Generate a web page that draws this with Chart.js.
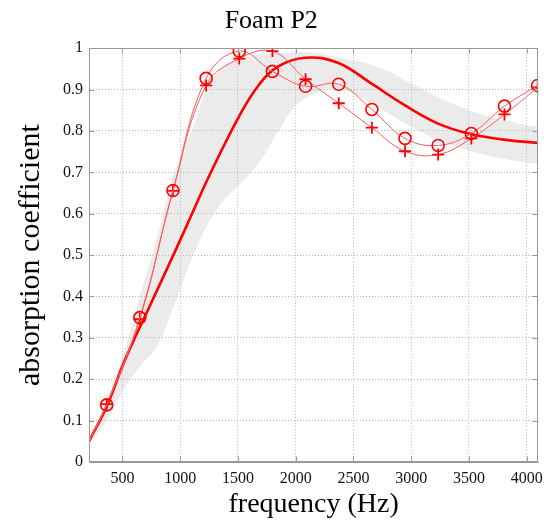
<!DOCTYPE html>
<html>
<head>
<meta charset="utf-8">
<script src="https://cdn.jsdelivr.net/npm/chart.js@4.4.1/dist/chart.umd.min.js"></script>
<style>
  html, body { margin: 0; padding: 0; background: #fff; }
</style>
</head>
<body>
<canvas id="foamChart" width="546" height="520"></canvas>
<script>
// measured points (markers)
const freqs = [364, 651, 938, 1225, 1512, 1799, 2086, 2373, 2660, 2947, 3234, 3521, 3808, 4095];
const circleVals = [0.138, 0.349, 0.656, 0.927, 0.993, 0.944, 0.908, 0.913, 0.852, 0.782, 0.765, 0.794, 0.86, 0.91];
const plusVals = [0.14, 0.345, 0.655, 0.91, 0.975, 0.993, 0.925, 0.867, 0.808, 0.751, 0.743, 0.782, 0.84, 0.905];
// where the thin curves start at the left edge
const startFreq = 211;
const startVal = 0.05;

// thick model curve
const modelFreqs = [211, 365, 520, 734, 966, 1095, 1249, 1500, 1678, 1850, 2082, 2365, 2648, 2940, 3223, 3507, 3799, 4100];
const modelVals = [0.05, 0.135, 0.245, 0.375, 0.515, 0.595, 0.69, 0.83, 0.91, 0.956, 0.977, 0.965, 0.916, 0.863, 0.819, 0.793, 0.779, 0.771];

// grey band
const bandFreqs = [211, 365, 500, 650, 800, 950, 1100, 1250, 1400, 1550, 1700, 1850, 2000, 2200, 2400, 2700, 3000, 3300, 3600, 3900, 4100];
const bandHigh = [0.05, 0.145, 0.25, 0.40, 0.54, 0.70, 0.80, 0.91, 0.96, 0.975, 0.985, 0.988, 0.99, 0.988, 0.975, 0.956, 0.915, 0.873, 0.841, 0.82, 0.81];
const bandLow = [0.045, 0.10, 0.17, 0.23, 0.28, 0.38, 0.49, 0.58, 0.64, 0.68, 0.73, 0.80, 0.86, 0.895, 0.90, 0.86, 0.81, 0.77, 0.745, 0.728, 0.72];

const xTicks = [500, 1000, 1500, 2000, 2500, 3000, 3500, 4000];

const serif = 'Liberation Serif';

function pts(xs, ys) {
  return xs.map((x, i) => ({ x: x, y: ys[i] }));
}

// frame + inward ticks like matlab
const boxFrame = {
  id: 'boxFrame',
  afterDatasetsDraw(chart) {
    const { ctx, chartArea: a, scales } = chart;
    const l = Math.round(a.left) + 0.5, r = Math.round(a.right) - 0.5;
    const t = Math.round(a.top) + 0.5, b = Math.round(a.bottom) - 0.5;
    ctx.save();
    ctx.strokeStyle = '#999';
    ctx.lineWidth = 1;
    ctx.strokeRect(l, t, r - l, b - t);
    ctx.beginPath();
    scales.x.ticks.forEach(tk => {
      const px = Math.round(scales.x.getPixelForValue(tk.value)) + 0.5;
      ctx.moveTo(px, b); ctx.lineTo(px, b - 5);
      ctx.moveTo(px, t); ctx.lineTo(px, t + 5);
    });
    scales.y.ticks.forEach(tk => {
      const py = Math.round(scales.y.getPixelForValue(tk.value)) + 0.5;
      ctx.moveTo(l, py); ctx.lineTo(l + 5, py);
      ctx.moveTo(r, py); ctx.lineTo(r - 5, py);
    });
    ctx.stroke();
    ctx.restore();
  }
};

const ctx = document.getElementById('foamChart').getContext('2d');
new Chart(ctx, {
  type: 'line',
  data: {
    datasets: [
      {
        label: 'o',
        data: [{ x: startFreq, y: startVal }].concat(pts(freqs, circleVals)),
        borderColor: '#ff5a5a',
        borderWidth: 1,
        tension: 0.4,
        pointStyle: 'circle',
        pointRadius: c => c.dataIndex === 0 ? 0 : 6,
        pointBorderColor: '#ff0000',
        pointBackgroundColor: 'rgba(0,0,0,0)',
        pointBorderWidth: 1.6,
        fill: false
      },
      {
        label: '+',
        data: [{ x: startFreq, y: startVal }].concat(pts(freqs, plusVals)),
        borderColor: '#ff5a5a',
        borderWidth: 1,
        tension: 0.4,
        pointStyle: 'cross',
        pointRadius: c => c.dataIndex === 0 ? 0 : 6,
        pointBorderColor: '#ff0000',
        pointBorderWidth: 1.8,
        fill: false
      },
      {
        label: 'model',
        data: pts(modelFreqs, modelVals),
        borderColor: '#ff0000',
        borderWidth: 2.6,
        tension: 0.4,
        pointRadius: 0,
        fill: false
      },
      {
        label: 'band high',
        data: pts(bandFreqs, bandHigh),
        borderColor: 'rgba(0,0,0,0)',
        borderWidth: 0,
        backgroundColor: '#ebebeb',
        tension: 0.4,
        pointRadius: 0,
        fill: '+1'
      },
      {
        label: 'band low',
        data: pts(bandFreqs, bandLow),
        borderColor: 'rgba(0,0,0,0)',
        borderWidth: 0,
        tension: 0.4,
        pointRadius: 0,
        fill: false
      }
    ]
  },
  options: {
    responsive: false,
    animation: false,
    layout: { padding: { left: 0, right: 3.5, top: 0, bottom: 0 } },
    plugins: {
      legend: { display: false },
      tooltip: { enabled: false },
      filler: { drawTime: 'beforeDraw' },
      title: {
        display: true,
        text: 'Foam P2',
        color: '#000',
        font: { family: serif, size: 26, weight: 'normal' },
        padding: { top: 6, bottom: 11 }
      }
    },
    scales: {
      x: {
        type: 'linear',
        min: 211,
        max: 4100,
        afterBuildTicks: s => { s.ticks = xTicks.map(v => ({ value: v })); },
        afterFit: s => { s.height = 58; s.paddingLeft = 0; s.paddingRight = 0; },
        ticks: {
          color: '#111',
          font: { family: serif, size: 16 },
          padding: 7,
          maxRotation: 0,
          callback: v => String(v)
        },
        grid: { color: '#b8b8b8', lineWidth: 1, drawTicks: false },
        border: { display: true, color: '#999', dash: [1, 2] },
        title: {
          display: true,
          text: 'frequency (Hz)',
          color: '#000',
          font: { family: serif, size: 28, lineHeight: 1 },
          padding: { top: 0, bottom: 1 }
        }
      },
      y: {
        min: 0,
        max: 1,
        afterFit: s => { s.width = 89; s.paddingTop = 0; s.paddingBottom = 0; },
        ticks: {
          stepSize: 0.1,
          color: '#111',
          font: { family: serif, size: 16 },
          padding: 6,
          callback: v => String(Number(v.toFixed(1)))
        },
        grid: { color: '#b8b8b8', lineWidth: 1, drawTicks: false },
        border: { display: true, color: '#999', dash: [1, 2] },
        title: {
          display: true,
          text: 'absorption coefficient',
          color: '#000',
          font: { family: serif, size: 30, lineHeight: 1 },
          padding: { top: 16, bottom: 0 }
        }
      }
    }
  },
  plugins: [boxFrame]
});
</script>
</body>
</html>
